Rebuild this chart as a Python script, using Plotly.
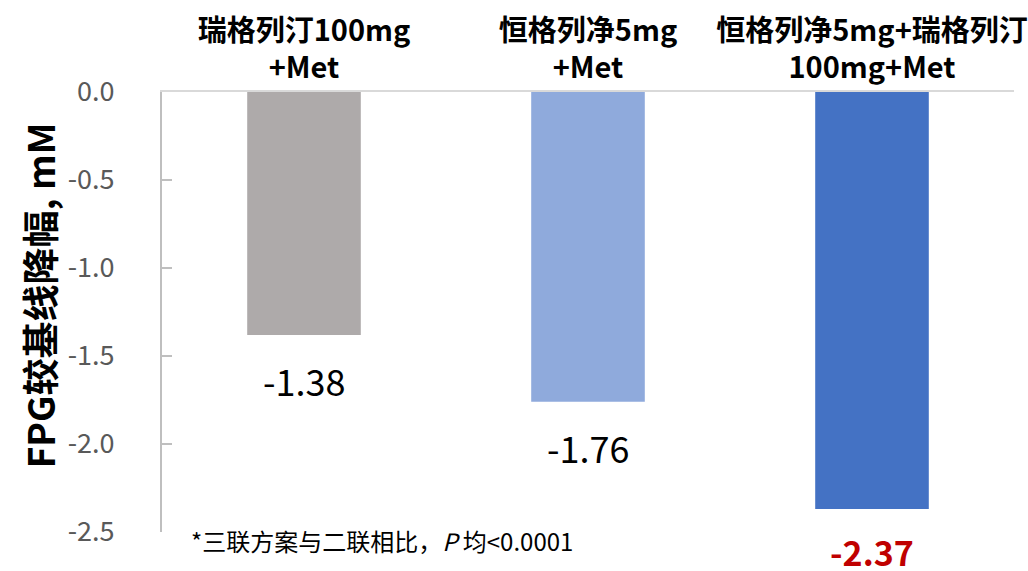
import plotly.graph_objects as go

categories = ["瑞格列汀100mg<br>+Met", "恒格列净5mg<br>+Met", "恒格列净5mg+瑞格列汀<br>100mg+Met"]
values = [-1.38, -1.76, -2.37]
bar_colors = ["#AEAAAA", "#8FAADC", "#4472C4"]
label_texts = ["-1.38", "-1.76", "-2.37"]
label_colors = ["#000000", "#000000", "#C00000"]
label_bold = [False, False, True]
tick_vals = [0, -0.5, -1.0, -1.5, -2.0, -2.5]
tick_text = ["0.0", "-0.5", "-1.0", "-1.5", "-2.0", "-2.5"]

FONT = "Noto Sans CJK SC"

fig = go.Figure()
fig.add_trace(go.Bar(x=categories, y=values, marker=dict(color=bar_colors, line=dict(width=0)),
                     width=0.4, hoverinfo="skip"))

for c, v, t, col, b in zip(categories, values, label_texts, label_colors, label_bold):
    fig.add_annotation(x=c, y=v, xref="x", yref="y", text=f"<b>{t}</b>" if b else t,
                       showarrow=False, yanchor="middle", yshift=-42 if b else -45,
                       font=dict(family=FONT, size=34 if b else 36, color=col))

fig.add_annotation(xref="paper", yref="paper", x=0.032, y=-0.02, xanchor="left", yanchor="middle",
                   text="*三联方案与二联相比，<i>P</i> 均<0.0001", showarrow=False,
                   font=dict(family=FONT, size=24, color="#000000"))

fig.add_annotation(xref="paper", yref="paper", x=-0.145, y=0.539, xanchor="center", yanchor="middle",
                   text="<b>FPG较基线降幅, mM</b>", textangle=-90, showarrow=False,
                   font=dict(family=FONT, size=37, color="#000000"))

fig.update_layout(
    width=1028, height=571,
    margin=dict(l=162, r=14, t=92, b=39),
    plot_bgcolor="white", paper_bgcolor="white",
    showlegend=False,
    xaxis=dict(side="top", showline=True, linecolor="#D9D9D9", linewidth=2, automargin=False,
               ticks="", showgrid=False, zeroline=False,
               tickfont=dict(family=FONT, size=29, color="#000000", weight="bold")),
    yaxis=dict(range=[-2.5, 0], tickvals=tick_vals, ticktext=tick_text, automargin=False,
               showline=True, linecolor="#BFBFBF", linewidth=2,
               ticks="inside", ticklen=10, tickcolor="#BFBFBF", tickwidth=2,
               showgrid=False, zeroline=False, ticklabelstandoff=40,
               tickfont=dict(family=FONT, size=27, color="#595959")),
)

fig.write_html("out.html")
